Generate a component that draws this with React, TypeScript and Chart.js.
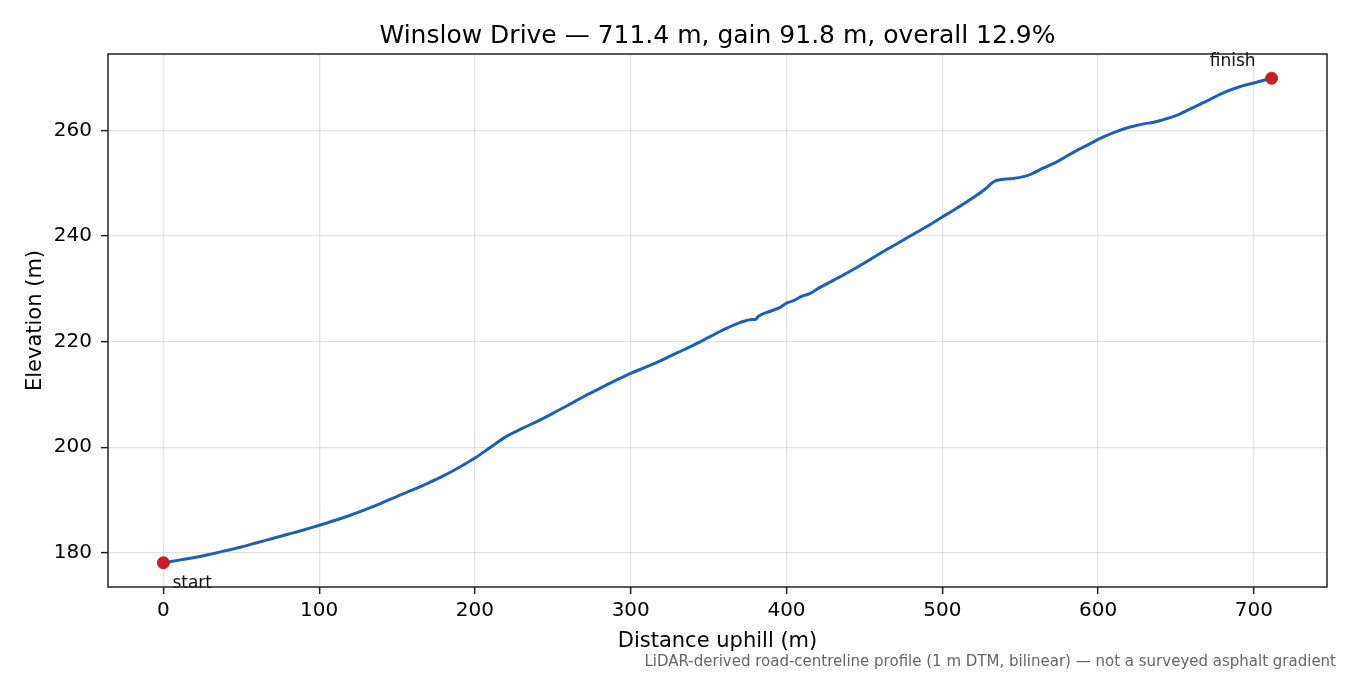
import React, { useEffect, useRef } from 'react';
import { Chart, registerables } from 'chart.js';

Chart.register(...registerables);

// road profile (distance in m, elevation in m)
const distance = [
  0, 10, 20, 30, 40, 50, 60, 70, 80, 90,
  100, 110, 120, 130, 140, 150, 160, 170, 180, 190,
  200, 210, 220, 230, 240, 250, 260, 270, 280, 290,
  300, 310, 320, 330, 340, 350, 360, 370, 378, 380,
  382, 390, 396, 400, 405, 410, 415, 420, 430, 440,
  450, 460, 470, 480, 490, 500, 510, 520, 528, 533,
  538, 545, 555, 565, 575, 585, 595, 600, 610, 620,
  630, 635, 640, 650, 660, 670, 680, 690, 700, 711.4,
];
const elevation = [
  178.1, 178.6, 179.1, 179.7, 180.4, 181.1, 181.9, 182.7, 183.5, 184.3,
  185.2, 186.1, 187.1, 188.2, 189.4, 190.7, 191.9, 193.2, 194.6, 196.2,
  197.95, 200.0, 202.0, 203.5, 204.9, 206.4, 208.0, 209.6, 211.1, 212.6,
  214.0, 215.2, 216.5, 217.9, 219.3, 220.8, 222.3, 223.6, 224.2, 224.2,
  224.8, 225.8, 226.5, 227.3, 227.8, 228.6, 229.1, 230.0, 231.6, 233.2,
  234.9, 236.7, 238.4, 240.1, 241.8, 243.6, 245.4, 247.3, 249.0, 250.3,
  250.7, 250.9, 251.5, 252.9, 254.3, 256.0, 257.5, 258.3, 259.6, 260.6,
  261.3, 261.5, 261.9, 262.8, 264.2, 265.6, 267.1, 268.2, 269.0, 269.9,
];

const xTicks = [0, 100, 200, 300, 400, 500, 600, 700];
const yTicks = [180, 200, 220, 240, 260];

const titleText = 'Winslow Drive \u2014 711.4 m, gain 91.8 m, overall 12.9%';
const xLabel = 'Distance uphill (m)';
const yLabel = 'Elevation (m)';
const footNote = 'LiDAR-derived road-centreline profile (1 m DTM, bilinear) \u2014 not a surveyed asphalt gradient';

const FONT = '"DejaVu Sans", sans-serif';

const textPlugin = {
  id: 'textPlugin',
  afterDraw(chart: any) {
    const { ctx, chartArea, scales } = chart;
    const { left, right, top, bottom } = chartArea;
    ctx.save();

    // start / finish annotations
    const n = distance.length - 1;
    ctx.fillStyle = '#111';
    ctx.font = `17px ${FONT}`;
    ctx.textBaseline = 'alphabetic';
    ctx.textAlign = 'left';
    ctx.fillText('start', scales.x.getPixelForValue(distance[0]) + 9, 588);
    ctx.textAlign = 'center';
    ctx.fillText('finish', scales.x.getPixelForValue(distance[n]) - 39, 66);

    // axes box
    ctx.strokeStyle = '#222';
    ctx.lineWidth = 1.5;
    ctx.strokeRect(left, top, right - left, bottom - top);

    // title
    ctx.fillStyle = '#000';
    ctx.textAlign = 'center';
    ctx.font = `25px ${FONT}`;
    ctx.fillText(titleText, (left + right) / 2, 42.5);

    // axis titles
    ctx.font = `21px ${FONT}`;
    ctx.fillText(xLabel, (left + right) / 2, 647);
    ctx.save();
    ctx.translate(41, (top + bottom) / 2);
    ctx.rotate(-Math.PI / 2);
    ctx.fillText(yLabel, 0, 0);
    ctx.restore();

    // footnote
    ctx.fillStyle = '#666';
    ctx.textAlign = 'right';
    ctx.font = `15px ${FONT}`;
    ctx.fillText(footNote, 1336, 665.5);

    ctx.restore();
  },
};

const App: React.FC = () => {
  const canvasRef: any = useRef(null);

  useEffect(() => {
    const ctx = canvasRef.current.getContext('2d');
    const n = distance.length - 1;

    const chart = new Chart(ctx, {
      type: 'line',
      data: {
        datasets: [
          {
            type: 'scatter',
            data: [
              { x: distance[0], y: elevation[0] },
              { x: distance[n], y: elevation[n] },
            ],
            backgroundColor: '#c41e2a',
            borderColor: '#c41e2a',
            pointRadius: 6,
            pointHoverRadius: 6,
            order: 0,
          },
          {
            data: distance.map((d, i) => ({ x: d, y: elevation[i] })),
            borderColor: '#1f5fb4',
            borderWidth: 3,
            pointRadius: 0,
            fill: false,
            cubicInterpolationMode: 'monotone',
            order: 1,
          },
        ],
      },
      options: {
        animation: false,
        responsive: false,
        maintainAspectRatio: false,
        layout: { padding: { left: 0, right: 23, top: 54, bottom: 0 } },
        plugins: {
          legend: { display: false },
          title: { display: false },
          tooltip: { enabled: false },
        },
        scales: {
          x: {
            type: 'linear',
            min: -35.57,
            max: 746.97,
            afterBuildTicks: (scale: any) => {
              scale.ticks = xTicks.map((v) => ({ value: v }));
            },
            afterFit: (scale: any) => {
              scale.height = 88;
            },
            border: { display: false },
            grid: {
              color: 'rgba(176,176,176,0.35)',
              lineWidth: 1.3,
              tickColor: '#222',
              tickLength: 7,
              tickWidth: 1.5,
            },
            ticks: {
              color: '#000',
              padding: 5,
              maxRotation: 0,
              font: { family: FONT, size: 20 },
            },
          },
          y: {
            type: 'linear',
            min: 173.51,
            max: 274.49,
            afterBuildTicks: (scale: any) => {
              scale.ticks = yTicks.map((v) => ({ value: v }));
            },
            afterFit: (scale: any) => {
              scale.width = 108;
            },
            border: { display: false },
            grid: {
              color: 'rgba(176,176,176,0.35)',
              lineWidth: 1.3,
              tickColor: '#222',
              tickLength: 7,
              tickWidth: 1.5,
            },
            ticks: {
              color: '#000',
              padding: 9,
              font: { family: FONT, size: 20 },
            },
          },
        },
      },
      plugins: [textPlugin],
    } as any);

    return () => {
      chart.destroy();
    };
  }, []);

  return (
    <div style={{ position: 'absolute', left: 0, top: 0, width: 1350, height: 675, background: '#fff' }}>
      <canvas ref={canvasRef} width={1350} height={675} style={{ width: 1350, height: 675 }} />
    </div>
  );
};

export default App;
